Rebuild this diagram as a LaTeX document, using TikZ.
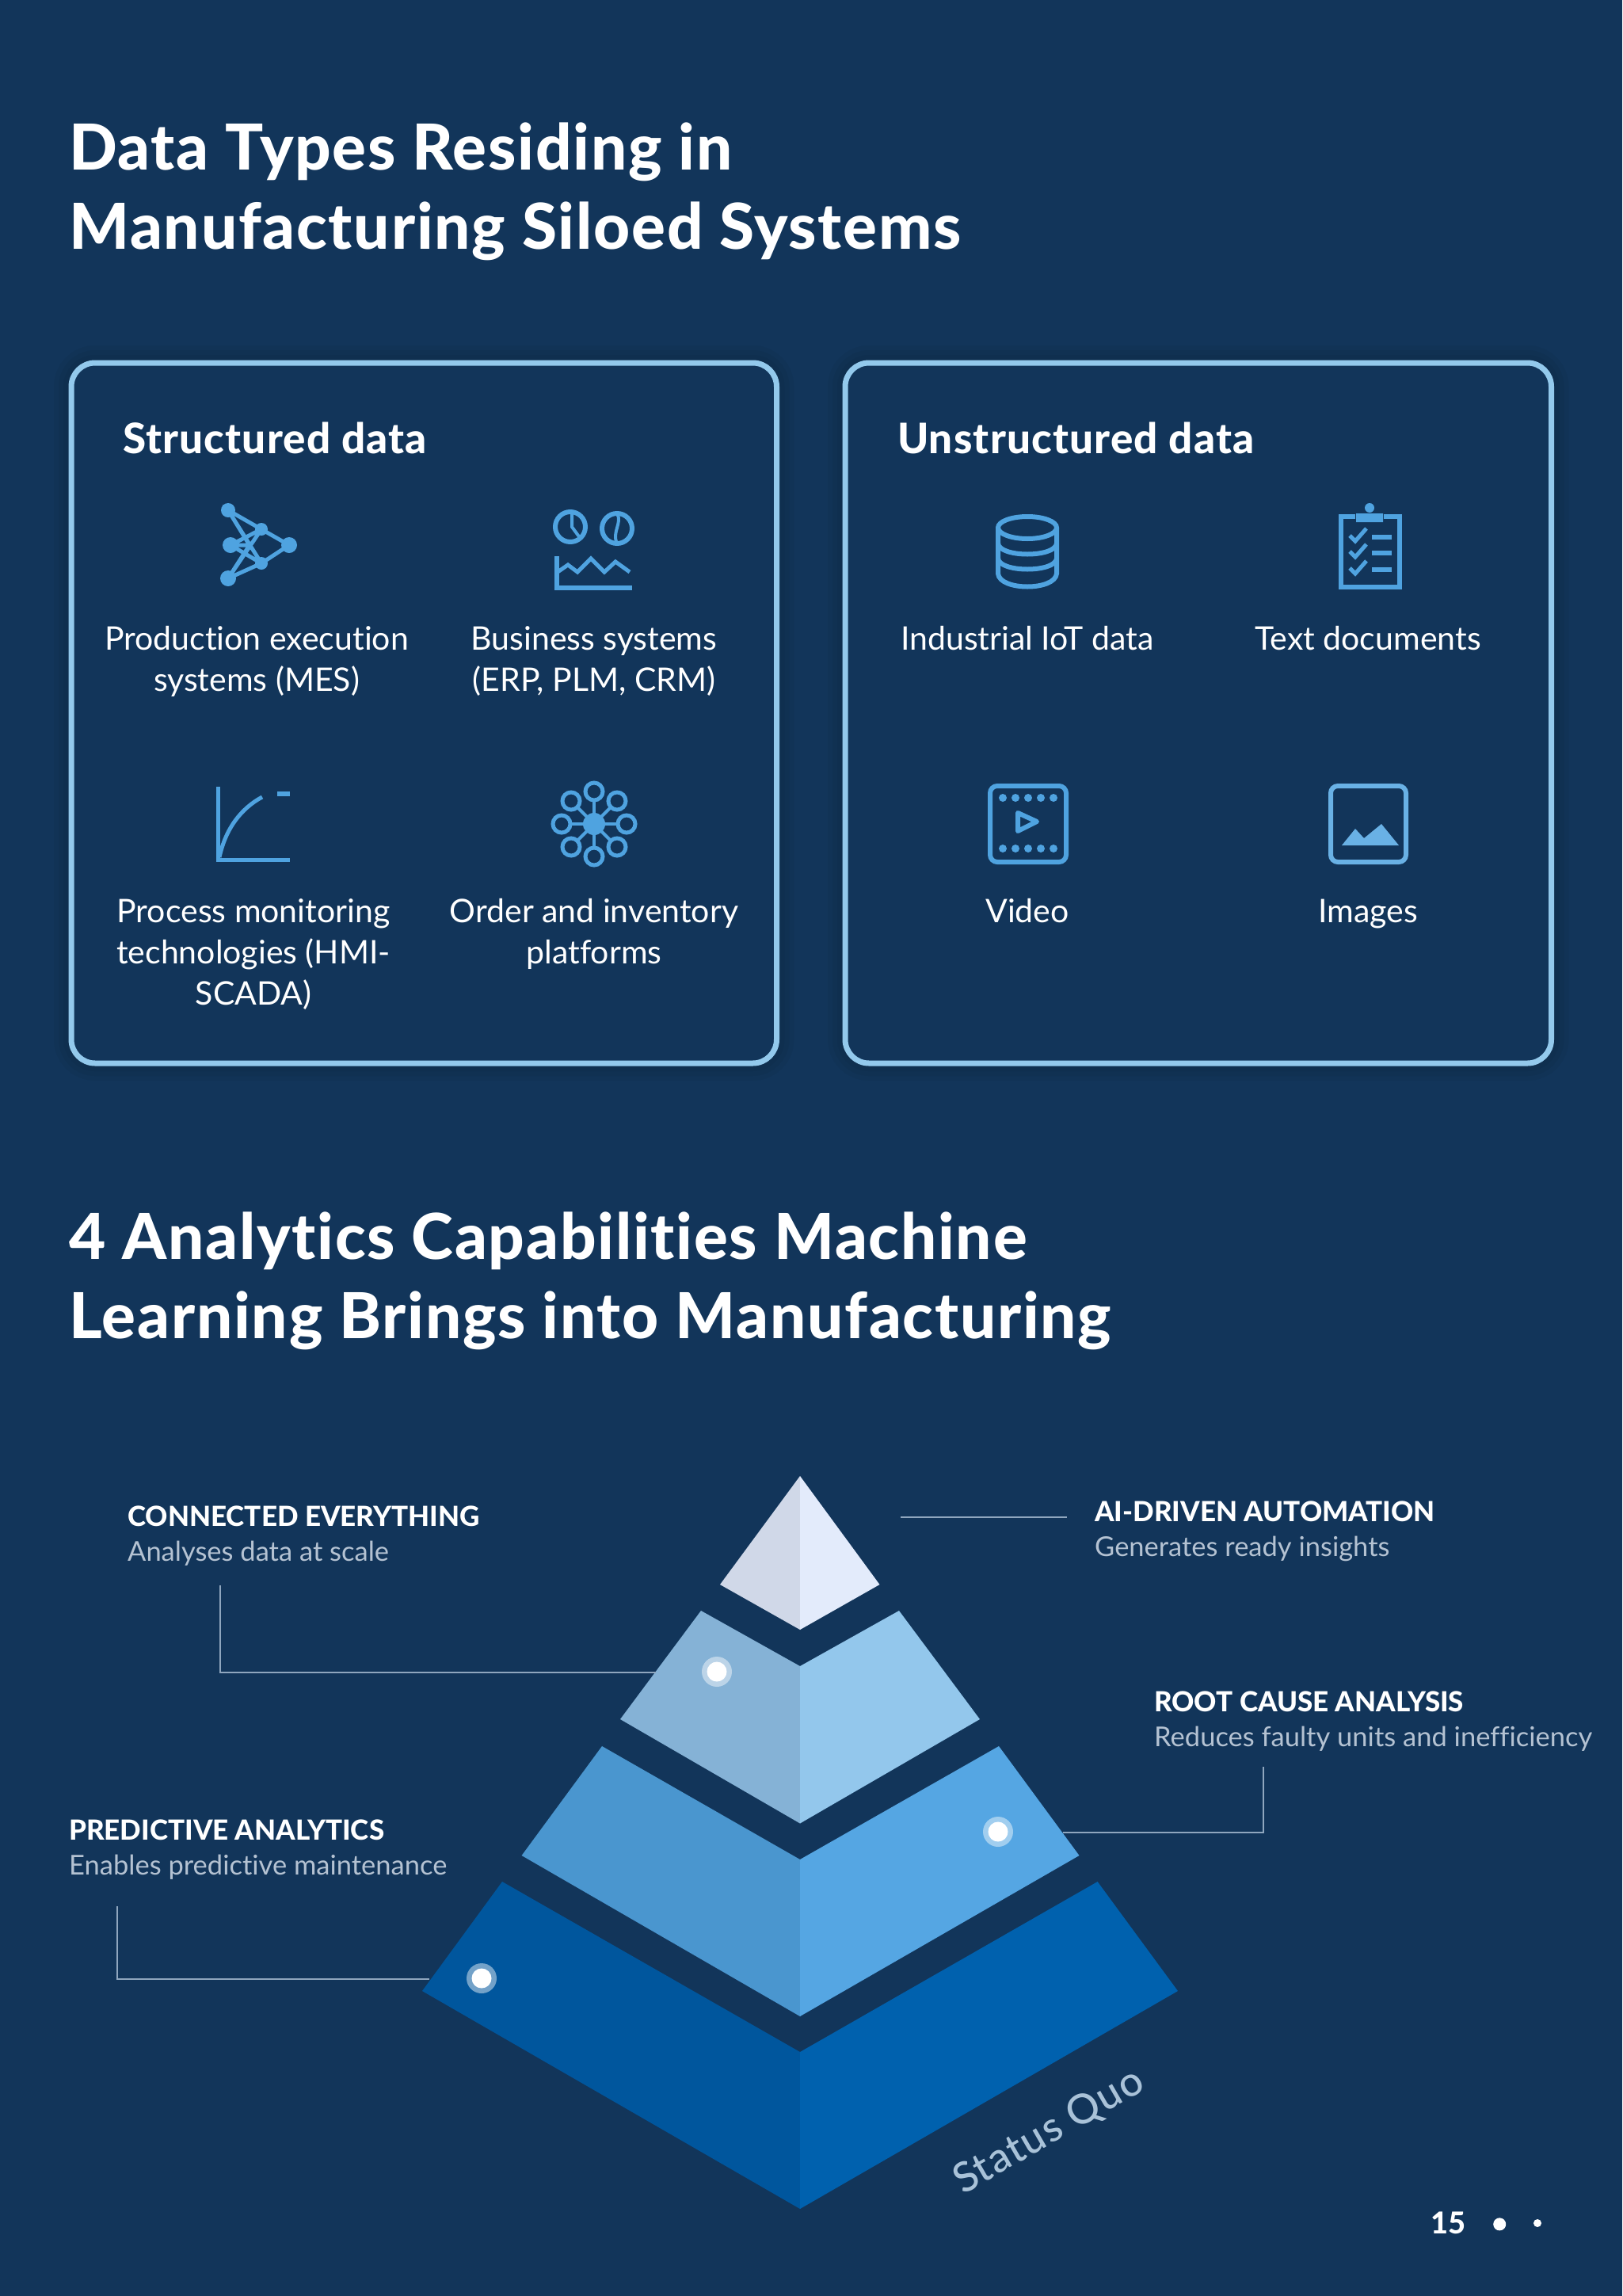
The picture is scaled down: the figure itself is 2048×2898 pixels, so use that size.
\documentclass[tikz,border=0pt]{standalone}
\usepackage{fontspec}
\usetikzlibrary{positioning}
\setmainfont{Lato}[Ligatures={TeX,NoCommon}]
\newfontfamily\heavyfont{Lato Heavy}[Ligatures={TeX,NoCommon}]
\newfontfamily\headfont{Lato Heavy}[Ligatures={TeX,NoCommon}, LetterSpace=2.2]
\newfontfamily\quofont{Lato Medium}[Ligatures={TeX,NoCommon}, LetterSpace=3]
\definecolor{pagebg}{HTML}{12355A}
\definecolor{frameblue}{HTML}{93C9EC}
\definecolor{iconblue}{HTML}{4FA3E0}
\definecolor{leadergrey}{HTML}{8FA6BE}
\definecolor{subgrey}{HTML}{B4C2D2}
\begin{document}
\begin{tikzpicture}[x=1pt, y=-1pt,
    headline/.style = {anchor=base west, align=left, inner sep=0pt, text=white, font=\fontsize{80}{100}\headfont},
    groupbox/.style = {draw=frameblue, fill=pagebg, line width=7pt, rounded corners=30pt},
    grouptitle/.style = {anchor=base west, inner sep=0pt, text=white, font=\fontsize{53}{60}\headfont},
    itemtext/.style = {anchor=base, align=center, inner sep=0pt, text=white, font=\fontsize{41}{52}\selectfont},
    icon/.style = {draw=iconblue, line width=6pt},
    iconfill/.style = {fill=iconblue},
    leader/.style = {draw=leadergrey, line width=1.6pt},
    caphead/.style = {anchor=base west, inner sep=0pt, text=white, font=\fontsize{35}{40}\heavyfont},
    capsub/.style = {anchor=base west, inner sep=0pt, text=subgrey, font=\fontsize{34.5}{40}\selectfont},
    spot/.style = {circle, minimum size=38pt, inner sep=0pt, fill=white, fill opacity=.45},
    spotcore/.style = {circle, minimum size=25pt, inner sep=0pt, fill=white}]
  \fill[pagebg] (0,0) rectangle (2048,2898);
  \useasboundingbox (0,0) rectangle (2048,2898);

  \node[headline] (title1) at (87,314) {Data Types Residing in\\Manufacturing Siloed Systems};
  \foreach \shw in {44,32,20}
    \draw[black, opacity=.035, line width=\shw pt, rounded corners=30pt] (90,458) rectangle (980.5,1342) (1067,458) rectangle (1958.5,1342);
  \draw[groupbox] (90,458) rectangle (980.5,1342);
  \draw[groupbox] (1067,458) rectangle (1958.5,1342);
  \node[grouptitle] (structured) at (155,572) {Structured data};
  \node[grouptitle] (unstructured) at (1133,572) {Unstructured data};

  \node[itemtext] (mes) at (324,872) {Production execution\\systems (MES)};
  \node[itemtext] (erp) at (750,872) {Business systems\\(ERP, PLM, CRM)};
  \node[itemtext] (hmi) at (320,1268) {Process monitoring\\technologies (HMI-\\SCADA)};
  \node[itemtext] (order) at (750,1216) {Order and inventory\\platforms};
  \node[itemtext] (iot) at (1297,820) {Industrial IoT data};
  \node[itemtext] (docs) at (1727,820) {Text documents};
  \node[itemtext] (video) at (1297,1164) {Video};
  \node[itemtext] (images) at (1727,1164) {Images};

  % network
  \draw[icon, line width=5pt] (288,644) -- (330,668) -- (365,688) -- (330,711) -- (288,730) -- (315,688) -- cycle
    (291,688) -- (330,668) (291,688) -- (330,711) (288,644) -- (330,711) (288,730) -- (330,668) (291,688) -- (315,688);
  \foreach \px/\py/\pr in {288/644/9, 365/688/10, 288/730/10, 291/688/10, 330/668/8, 330/711/8}
    \fill[iconfill] (\px,\py) circle (\pr);
  % charts
  \draw[icon] (720,665) circle (19) (779,667) circle (19);
  \draw[icon, line width=4pt] (722,646) -- (722,665) -- (733,680) (779,686) .. controls (772,672) and (786,660) .. (779,648);
  \draw[icon] (703,702) -- (703,742) -- (798,742);
  \draw[icon, line width=5pt] (704,722) -- (717,713) -- (729,722) -- (746,705) -- (763,722) -- (777,709) -- (795,722);
  % curve
  \draw[icon, line width=5pt] (275,993) -- (275,1085) -- (366,1085);
  \draw[icon, line width=5pt] (277,1082) .. controls (285,1045) and (305,1020) .. (331,1006);
  \draw[icon] (350,1002) -- (366,1002);
  % flower
  \fill[iconfill] (750,1040) circle (14);
  \foreach \ang in {0,45,...,315} {
    \draw[icon, line width=5pt] (750,1040) ++(\ang:41) circle (11);
    \draw[icon, line width=4pt] (750,1040) -- ++(\ang:30);
  }
  % database
  \draw[icon] (1297,666) ellipse (37 and 14);
  \draw[icon] (1260,666) -- (1260,724) .. controls (1262,746) and (1332,746) .. (1334,724) -- (1334,666);
  \draw[icon] (1260,686) .. controls (1262,704) and (1332,704) .. (1334,686);
  \draw[icon] (1260,705) .. controls (1262,723) and (1332,723) .. (1334,705);
  % clipboard
  \draw[icon] (1711,652) -- (1693,652) -- (1693,741) -- (1767,741) -- (1767,652) -- (1747,652);
  \fill[iconfill] (1712,648) rectangle (1746,659) (1729,641) circle (6);
  \foreach \rowy in {676,696,717} {
    \draw[icon, line width=5pt] (1704,\rowy) -- (1711,\rowy+7) -- (1725,\rowy-9);
    \draw[icon] (1732,\rowy+2) -- (1757,\rowy+2);
  }
  % video
  \draw[icon, rounded corners=9pt] (1250,992) rectangle (1346,1088);
  \foreach \dotx in {1266,1282,1298,1314,1330}
    \fill[iconfill] (\dotx,1007) circle (5) (\dotx,1071) circle (5);
  \draw[icon, line join=round] (1285,1026) -- (1285,1049) -- (1309,1037) -- cycle;
  % image
  \draw[icon, rounded corners=9pt, draw=iconblue!85!white] (1680,992) rectangle (1775,1088);
  \fill[iconblue!85!white] (1694,1067) -- (1711,1046) -- (1722,1058) -- (1744,1040) -- (1766,1067) -- cycle;

  \node[headline] (title2) at (87,1689) {4 Analytics Capabilities Machine\\Learning Brings into Manufacturing};

  % pyramid
  \fill[fill={rgb,255:red,208;green,216;blue,232}] (1010,1863) -- (909,2000) -- (1010,2057) -- cycle;
  \fill[fill={rgb,255:red,227;green,235;blue,251}] (1010,1863) -- (1110.5,2000) -- (1010,2057) -- cycle;
  \fill[fill={rgb,255:red,133;green,178;blue,214}] (1010,2103) -- (885,2033) -- (783,2170) -- (1010,2301.5) -- cycle;
  \fill[fill={rgb,255:red,147;green,199;blue,236}] (1010,2103) -- (1135,2033) -- (1237,2170) -- (1010,2301.5) -- cycle;
  \fill[fill={rgb,255:red,74;green,150;blue,207}] (1010,2347) -- (760,2204) -- (658.6,2342) -- (1010,2545) -- cycle;
  \fill[fill={rgb,255:red,85;green,166;blue,227}] (1010,2347) -- (1261,2204) -- (1362.5,2342) -- (1010,2545) -- cycle;
  \fill[fill={rgb,255:red,0;green,86;blue,157}] (1010,2590) -- (634,2375) -- (533,2513) -- (1010,2788) -- cycle;
  \fill[fill={rgb,255:red,0;green,97;blue,174}] (1010,2590) -- (1385.6,2375) -- (1487,2513) -- (1010,2788) -- cycle;
  \node[rotate=30, inner sep=0pt, text={rgb,255:red,169;green,194;blue,216}, font=\fontsize{52}{50}\quofont] (statusquo) at (1324.5,2690.5) {Status Quo};

  % captions
  \node[caphead] (connected) at (161,1926) {CONNECTED EVERYTHING};
  \node[capsub] (connectedsub) at (161,1970) {Analyses data at scale};
  \node[caphead] (aidriven) at (1382,1920) {AI-DRIVEN AUTOMATION};
  \node[capsub] (aisub) at (1382,1964) {Generates ready insights};
  \node[caphead] (rootcause) at (1457,2160) {ROOT CAUSE ANALYSIS};
  \node[capsub] (rootsub) at (1457,2204) {Reduces faulty units and inefficiency};
  \node[caphead] (predictive) at (87,2322) {PREDICTIVE ANALYTICS};
  \node[capsub] (predictivesub) at (87,2366) {Enables predictive maintenance};

  % spots and leaders
  \foreach \spotname/\spotx/\spoty in {spotb/905/2110, spotc/1260/2312, spotd/608/2497} {
    \node[spot] at (\spotx,\spoty) {};
    \node[spotcore] (\spotname) at (\spotx,\spoty) {};
  }
  \coordinate (lead1a) at (278,2001);
  \coordinate (lead1b) at (828,2111);
  \coordinate (lead2a) at (1595,2230);
  \coordinate (lead2b) at (1342,2313);
  \coordinate (lead3a) at (148,2406);
  \coordinate (lead3b) at (542,2498);
  \coordinate (lead4a) at (1137,1915);
  \coordinate (lead4b) at (1347,1915);
  \draw[leader] (lead1a) |- (lead1b);
  \draw[leader] (lead2a) |- (lead2b);
  \draw[leader] (lead3a) |- (lead3b);
  \draw[leader] (lead4a) -- (lead4b);

  % page mark
  \node[anchor=base east, inner sep=0pt, text=white, font=\fontsize{38}{40}\heavyfont] (pageno) at (1851,2819) {15};
  \node[circle, fill=white, minimum size=16pt, inner sep=0pt, right=34pt of pageno.east, yshift=-2pt] (dotbig) {};
  \node[circle, fill=white, minimum size=10pt, inner sep=0pt] (dotsmall) at (1941,2806) {};
\end{tikzpicture}
\end{document}
